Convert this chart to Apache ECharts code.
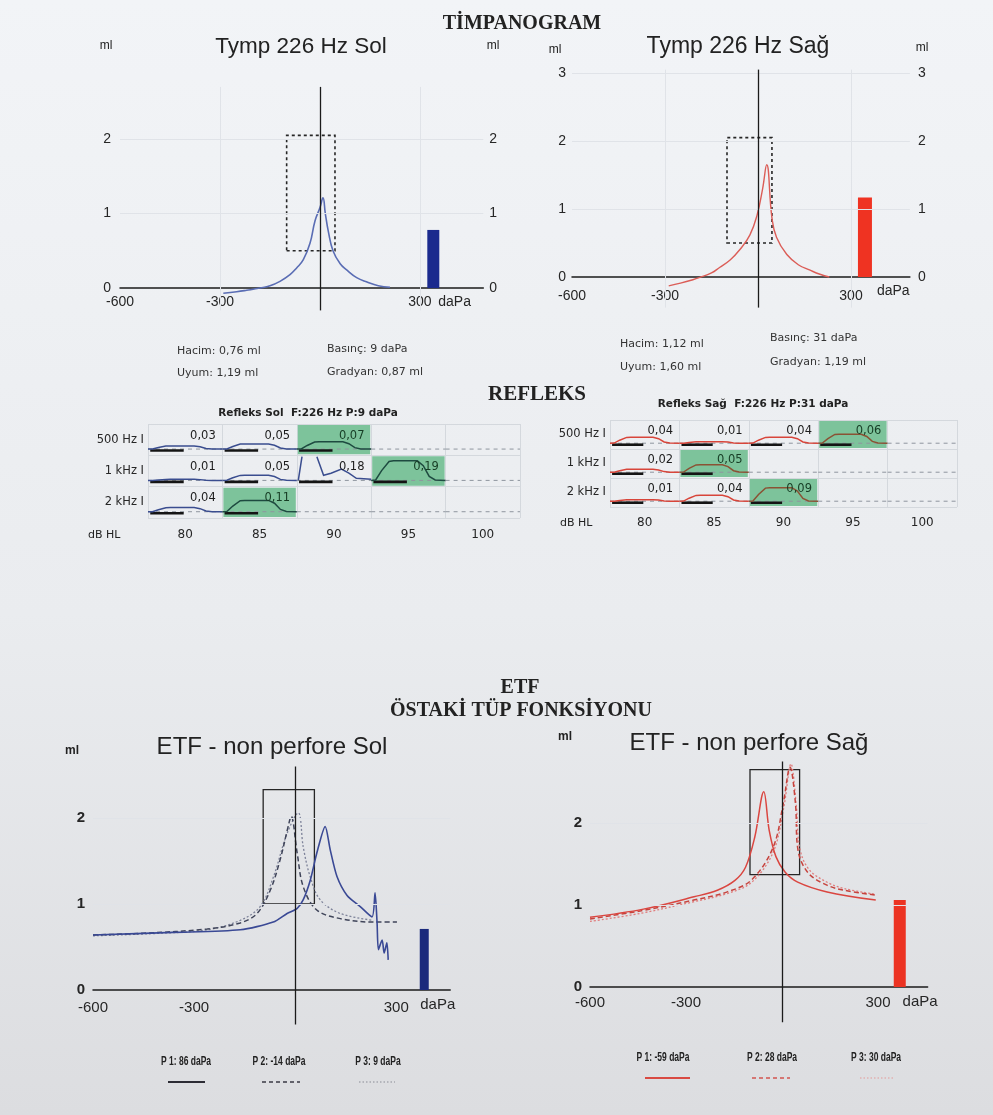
<!DOCTYPE html>
<html><head><meta charset="utf-8">
<script src="https://cdn.jsdelivr.net/npm/echarts@6/dist/echarts.min.js"></script>
<style>html,body{margin:0;padding:0;background:#eceef1}#c{width:993px;height:1115px}</style>
</head><body><div id="c"></div>
<script>
// ================= DATA =================
const pressureTicks = [-600, -300, 300];

// Tympanogram 226 Hz - Sol (pressure daPa / compliance ml)
const tympSolP = [-290,-250,-220,-180,-150,-120,-90,-70,-50,-30,-15,0,9,16,25,39,60,81,110,141,175,210];
const tympSolV = [-0.07,-0.05,-0.03,0.0,0.03,0.09,0.18,0.27,0.38,0.60,0.90,1.08,1.21,1.0,0.76,0.5,0.33,0.24,0.14,0.08,0.03,0.01];
const tympSolVolume = [[340, 0.78]];
// Tympanogram 226 Hz - Sağ
const tympSagP = [-288,-250,-210,-190,-150,-124,-90,-59,-26,-3,15,28,45,60,93,130,168,200,230];
const tympSagV = [-0.13,-0.09,-0.04,-0.01,0.06,0.14,0.25,0.40,0.62,0.91,1.30,1.65,0.87,0.58,0.33,0.18,0.10,0.04,0.0];
const tympSagVolume = [[345, 1.17]];
const tympNormBox = [[-100, 0.5], [45, 2.05]];

// Reflex tables
const reflexLevels = ['80', '85', '90', '95', '100'];
const reflexRows = ['500 Hz I', '1 kHz I', '2 kHz I'];
const reflexSolValues = [[0.03, 0.05, 0.07, null, null], [0.01, 0.05, 0.18, 0.19, null], [0.04, 0.11, null, null, null]];
const reflexSolPass   = [[0, 0, 1, 0, 0], [0, 0, 0, 1, 0], [0, 1, 0, 0, 0]];
const reflexSagValues = [[0.04, 0.01, 0.04, 0.06, null], [0.02, 0.05, null, null, null], [0.01, 0.04, 0.09, null, null]];
const reflexSagPass   = [[0, 0, 0, 1, 0], [0, 1, 0, 0, 0], [0, 0, 1, 0, 0]];
// normalized reflex response shape (fraction of cell width, fraction of amplitude)
const reflexShape = [[0,0],[0.06,0.02],[0.14,0.5],[0.24,0.97],[0.3,1],[0.62,1],[0.7,0.75],[0.78,0.2],[0.86,0.02],[1,0]];
// artifact trace in Sol 1 kHz / 90 dB (fraction of width, ml)
const reflexSolArtifact = {row: 1, col: 2, trace: [[[0.02,0.0],[0.07,0.23]], [[0.27,0.23],[0.36,0.05],[0.46,0.07],[0.6,0.11],[0.7,0.07],[0.8,0.02],[1,0.01]]]};

// ETF - non perfore Sol
const etfSolP1P = [-600,-362,-163,-65,-24,6,24,45,64,89,104,124,154,193,228,237,243,247,258,264,272,276];
const etfSolP1V = [0.64,0.67,0.70,0.79,0.89,0.95,1.05,1.28,1.59,1.90,1.63,1.32,1.10,0.97,0.85,1.13,0.78,0.47,0.58,0.43,0.55,0.35];
const etfSolP2P = [-600,-450,-261,-163,-113,-74,-45,-21,-12,6,24,64,134,232,302];
const etfSolP2V = [0.64,0.66,0.71,0.78,0.89,1.16,1.51,1.90,2.02,1.59,1.20,0.93,0.83,0.79,0.79];
const etfSolP3P = [-600,-400,-261,-163,-104,-65,-24,9,24,45,74,134,232];
const etfSolP3V = [0.63,0.66,0.70,0.81,0.97,1.31,1.82,2.06,1.66,1.31,1.05,0.89,0.81];
const etfSolVolume = [[383, 0.71]];
const etfSolBox = [[-95, 1.0], [57, 2.33]];
// ETF - non perfore Sağ
const etfSagP1P = [-600,-433,-275,-202,-147,-114,-85,-57,-40,-19,10,49,141,293];
const etfSagP1V = [0.85,0.95,1.10,1.18,1.30,1.46,1.83,2.38,1.91,1.59,1.40,1.28,1.16,1.06];
const etfSagP2P = [-600,-440,-276,-171,-94,-27,4,25,42,50,82,142,195,294];
const etfSagP2V = [0.83,0.93,1.06,1.16,1.31,1.71,2.24,2.68,2.24,1.67,1.39,1.24,1.18,1.12];
const etfSagP3P = [-600,-440,-276,-171,-94,-27,6,28,45,55,85,145,195,294];
const etfSagP3V = [0.80,0.90,1.04,1.14,1.28,1.65,2.20,2.72,2.20,1.70,1.43,1.27,1.20,1.13];
const etfSagVolume = [[368, 1.06]];
const etfSagBox = [[-100, 1.37], [55, 2.65]];

const etfSolLegend = ['P 1: 86 daPa', 'P 2: -14 daPa', 'P 3: 9 daPa'];
const etfSagLegend = ['P 1: -59 daPa', 'P 2: 28 daPa', 'P 3: 30 daPa'];

// ================= HELPERS =================
const SANS = '"Liberation Sans", Arial, sans-serif';
const SERIF = '"Liberation Serif", "Times New Roman", serif';
const DV = '"DejaVu Sans", Verdana, sans-serif';
const zip = (a, b) => a.map((x, i) => [x, b[i]]);

function pressureXAxis(grid, min, max, nameGap, fs, margin) {
  return {type: 'value', gridIndex: grid, min, max,
    axisLine: {show: true, onZero: true, lineStyle: {color: '#1b1b1b', width: 1.5}},
    axisTick: {show: false}, splitLine: {show: false},
    axisLabel: {customValues: pressureTicks, fontSize: fs, color: '#262626', margin, fontFamily: SANS, hideOverlap: false},
    name: 'daPa', nameLocation: 'end', nameGap,
    nameTextStyle: {fontSize: fs, color: '#262626', fontFamily: SANS, verticalAlign: 'top', padding: [7, 0, 0, 0]}};
}
function mlYAxis(grid, min, max, pos, labels, margin, fs, bold) {
  return {type: 'value', gridIndex: grid, min, max, position: pos,
    axisLine: {show: false}, axisTick: {show: false}, splitLine: {show: false},
    axisLabel: {customValues: labels, fontSize: fs, color: '#262626', margin, fontFamily: SANS, fontWeight: bold ? 'bold' : 'normal', hideOverlap: false}};
}
function guides(vx, hy) {
  const faint = {color: '#e0e3e8', width: 1, type: 'solid'};
  const data = [];
  vx.forEach(v => data.push({xAxis: v, lineStyle: faint}));
  hy.forEach(v => data.push({yAxis: v, lineStyle: faint}));
  data.push({xAxis: 0, lineStyle: {color: '#1b1b1b', width: 1.3, type: 'solid'}});
  return {symbol: 'none', silent: true, label: {show: false}, animation: false, data};
}
function boxArea(box, dashed) {
  return {silent: true, animation: false,
    itemStyle: {color: 'rgba(0,0,0,0)', borderColor: '#262626', borderWidth: dashed ? 1.6 : 1.3, borderType: dashed ? [3, 3] : 'solid'},
    data: [[{coord: box[0]}, {coord: box[1]}]]};
}
function curve(xi, yi, data, color, width, type, smooth, z) {
  return {type: 'line', xAxisIndex: xi, yAxisIndex: yi, data, showSymbol: false, symbol: 'none',
    smooth: smooth, animation: false, silent: true, z: z || 3,
    lineStyle: {color, width, type}};
}
function volumeBar(xi, yi, data, color, w) {
  return {type: 'bar', xAxisIndex: xi, yAxisIndex: yi, data, barWidth: w, animation: false, silent: true,
    itemStyle: {color}};
}
function reflexSeries(xi, yi, values, pass, traceColor, traceOnGreen, ampScale, artifact) {
  const data = [];
  values.forEach((row, r) => row.forEach((v, c) => data.push([c, r, v == null ? -1 : v, pass[r][c]])));
  return {type: 'custom', coordinateSystem: 'cartesian2d', xAxisIndex: xi, yAxisIndex: yi, data, encode: {x: 0, y: 1},
    silent: true, animation: false,
    renderItem: function (params, api) {
      const c = api.value(0), r = api.value(1), v = api.value(2), ok = api.value(3);
      const ctr = api.coord([c, r]);
      const sz = api.size([1, 1]);
      const w = sz[0], h = sz[1], x0 = ctr[0] - w / 2, y0 = ctr[1] - h / 2, base = y0 + h * 0.8;
      const kids = [];
      if (ok) kids.push({type: 'rect', shape: {x: x0 + 1, y: y0 + 1, width: w - 2, height: h - 2}, style: {fill: '#7dc39b'}});
      kids.push({type: 'line', shape: {x1: x0, y1: base, x2: x0 + w, y2: base}, style: {stroke: '#8f959e', lineWidth: 1, lineDash: [4, 4]}});
      if (v >= 0) {
        kids.push({type: 'line', shape: {x1: x0 + w * 0.03, y1: base + 1.5, x2: x0 + w * 0.48, y2: base + 1.5}, style: {stroke: '#141414', lineWidth: 2.6}});
        const col = ok ? traceOnGreen : traceColor;
        if (artifact && artifact.row === r && artifact.col === c) {
          artifact.trace.forEach(sg => kids.push({type: 'polyline',
            shape: {points: sg.map(p => [x0 + w * p[0], base - p[1] * ampScale])},
            style: {stroke: col, lineWidth: 1.5, fill: null}}));
        } else {
          kids.push({type: 'polyline', shape: {points: reflexShape.map(p => [x0 + w * p[0], base - p[1] * v * ampScale])},
            style: {stroke: col, lineWidth: 1.5, fill: null}});
        }
        kids.push({type: 'text', x: x0 + w * 0.91, y: y0 + h * 0.37,
          style: {text: v.toFixed(2).replace('.', ','), fill: ok ? '#173d25' : '#1d1d1d', font: '11.5px ' + DV, align: 'right', verticalAlign: 'middle'}});
      }
      return {type: 'group', children: kids};
    }};
}
function catX(grid, margin) {
  return {type: 'category', gridIndex: grid, data: reflexLevels, position: 'bottom',
    axisLine: {show: false}, axisTick: {show: false},
    axisLabel: {fontSize: 12, color: '#262626', margin, fontFamily: DV},
    splitLine: {show: true, lineStyle: {color: '#d4d8dd', width: 1}}};
}
function catY(grid) {
  return {type: 'category', gridIndex: grid, data: reflexRows, inverse: true,
    axisLine: {show: false}, axisTick: {show: false},
    axisLabel: {fontSize: 11.5, color: '#262626', margin: 4, fontFamily: DV},
    splitLine: {show: true, lineStyle: {color: '#d4d8dd', width: 1}}};
}
function txt(text, x, y, font, align, fill, sx) {
  return {type: 'text', x, y, silent: true, scaleX: sx || 1,
    style: {text, font, fill: fill || '#222', align: align || 'center', verticalAlign: 'middle'}};
}
function seg(x1, x2, y, color, width, dash) {
  return {type: 'line', silent: true, shape: {x1, y1: y, x2, y2: y},
    style: {stroke: color, lineWidth: width, lineDash: dash || null}};
}

// ================= CHART =================
const chart = echarts.init(document.getElementById('c'), null, {renderer: 'canvas'});
const LEG = 'bold 12.5px "Liberation Sans", Arial, sans-serif';
const LSX = 0.68;
const option = {
  animation: false,
  backgroundColor: {type: 'linear', x: 0, y: 0, x2: 0, y2: 1,
    colorStops: [{offset: 0, color: '#f2f4f7'}, {offset: 0.55, color: '#eaecef'}, {offset: 1, color: '#dcdde0'}]},
  textStyle: {fontFamily: SANS},
  grid: [
    {left: 120, top: 86.9, width: 363.3, height: 223.5, containLabel: false, outerBoundsMode: 'none'},
    {left: 572, top: 69.6, width: 337.9, height: 238, containLabel: false, outerBoundsMode: 'none'},
    {left: 148, top: 424, width: 372, height: 94, containLabel: false, outerBoundsMode: 'none'},
    {left: 610, top: 420, width: 347, height: 87, containLabel: false, outerBoundsMode: 'none'},
    {left: 93, top: 766.4, width: 357.2, height: 258, containLabel: false, outerBoundsMode: 'none'},
    {left: 590, top: 761.5, width: 337.6, height: 260.8, containLabel: false, outerBoundsMode: 'none'}
  ],
  xAxis: [
    pressureXAxis(0, -600, 490, -45, 14, -15),
    pressureXAxis(1, -600, 490, -33, 14, -18),
    catX(2, 11),
    catX(3, 10),
    pressureXAxis(4, -600, 460, -30, 15, -24),
    pressureXAxis(5, -600, 455, -25, 15, -27)
  ],
  yAxis: [
    mlYAxis(0, -0.3, 2.7, 'left', [0, 1, 2], 9, 14, false),   // 0
    mlYAxis(0, -0.3, 2.7, 'right', [0, 1, 2], 6, 14, false),  // 1
    catY(2),                                                  // 2
    catY(3),                                                  // 3
    mlYAxis(1, -0.45, 3.05, 'left', [0, 1, 2, 3], 6, 14, false),  // 4
    mlYAxis(1, -0.45, 3.05, 'right', [0, 1, 2, 3], 8, 14, false), // 5
    mlYAxis(4, -0.4, 2.6, 'left', [0, 1, 2], 8, 15, true),    // 6
    mlYAxis(5, -0.43, 2.75, 'left', [0, 1, 2], 8, 15, true)   // 7
  ],
  series: [
    Object.assign(curve(0, 0, zip(tympSolP, tympSolV), '#5a6db4', 1.6, 'solid', 0.45),
      {markLine: guides([-300, 300], [1, 2]), markArea: boxArea(tympNormBox, true)}),
    volumeBar(0, 0, tympSolVolume, '#1b2a8e', 12),
    Object.assign(curve(1, 4, zip(tympSagP, tympSagV), '#db5d57', 1.4, 'solid', 0.45),
      {markLine: guides([-300, 300], [1, 2, 3]), markArea: boxArea(tympNormBox, true)}),
    volumeBar(1, 4, tympSagVolume, '#ef3322', 14),
    reflexSeries(2, 2, reflexSolValues, reflexSolPass, '#3a4d8f', '#1e4a40', 103, reflexSolArtifact),
    reflexSeries(3, 3, reflexSagValues, reflexSagPass, '#d8453a', '#8a5234', 150, null),
    Object.assign(curve(4, 6, zip(etfSolP3P, etfSolP3V), '#7d8299', 1.3, [2, 2], 0.35),
      {markLine: guides([], [1, 2]), markArea: boxArea(etfSolBox, false)}),
    curve(4, 6, zip(etfSolP2P, etfSolP2V), '#3f4459', 1.5, [5, 3], 0.35),
    curve(4, 6, zip(etfSolP1P, etfSolP1V), '#3a4995', 1.6, 'solid', 0.25, 4),
    volumeBar(4, 6, etfSolVolume, '#1b2a7c', 9),
    Object.assign(curve(5, 7, zip(etfSagP3P, etfSagP3V), '#e07d7d', 1.3, [2, 2], 0.35),
      {markLine: guides([], [1, 2]), markArea: boxArea(etfSagBox, false)}),
    curve(5, 7, zip(etfSagP2P, etfSagP2V), '#c6433d', 1.5, [5, 3], 0.35),
    curve(5, 7, zip(etfSagP1P, etfSagP1V), '#da4640', 1.5, 'solid', 0.35, 4),
    volumeBar(5, 7, etfSagVolume, '#ec3322', 12)
  ],
  graphic: [
    txt('TİMPANOGRAM', 522, 24, 'bold 20px ' + SERIF),
    txt('Tymp 226 Hz Sol', 301, 47, '22.5px ' + SANS),
    txt('Tymp 226 Hz Sağ', 738, 47, '23px ' + SANS),
    txt('ml', 106, 46, '12px ' + SANS),
    txt('ml', 493, 46, '12px ' + SANS),
    txt('ml', 555, 50, '12px ' + SANS),
    txt('ml', 922, 48, '12px ' + SANS),
    txt('Hacim: 0,76 ml', 177, 351, '11px ' + DV, 'left', '#333'),
    txt('Uyum: 1,19 ml', 177, 373, '11px ' + DV, 'left', '#333'),
    txt('Basınç: 9 daPa', 327, 349, '11px ' + DV, 'left', '#333'),
    txt('Gradyan: 0,87 ml', 327, 372, '11px ' + DV, 'left', '#333'),
    txt('Hacim: 1,12 ml', 620, 344, '11px ' + DV, 'left', '#333'),
    txt('Uyum: 1,60 ml', 620, 367, '11px ' + DV, 'left', '#333'),
    txt('Basınç: 31 daPa', 770, 338, '11px ' + DV, 'left', '#333'),
    txt('Gradyan: 1,19 ml', 770, 362, '11px ' + DV, 'left', '#333'),
    txt('REFLEKS', 537, 395, 'bold 21px ' + SERIF),
    txt('Refleks Sol  F:226 Hz P:9 daPa', 308, 413, 'bold 10.5px ' + DV),
    txt('Refleks Sağ  F:226 Hz P:31 daPa', 753, 404, 'bold 10.5px ' + DV),
    txt('dB HL', 88, 535, '11px ' + DV, 'left'),
    txt('dB HL', 560, 523, '11px ' + DV, 'left'),
    txt('ETF', 520, 688, 'bold 20px ' + SERIF),
    txt('ÖSTAKİ TÜP FONKSİYONU', 521, 711, 'bold 20px ' + SERIF),
    txt('ETF - non perfore Sol', 272, 747, '24px ' + SANS),
    txt('ETF - non perfore Sağ', 749, 743, '24px ' + SANS),
    txt('ml', 72, 751, 'bold 12px ' + SANS),
    txt('ml', 565, 737, 'bold 12px ' + SANS),
    txt(etfSolLegend[0], 186, 1062, LEG, 'center', '#222', LSX),
    txt(etfSolLegend[1], 279, 1062, LEG, 'center', '#222', LSX),
    txt(etfSolLegend[2], 378, 1062, LEG, 'center', '#222', LSX),
    seg(168, 205, 1082, '#2c2c34', 2), seg(262, 300, 1082, '#3a3a44', 1.6, [4, 3]), seg(359, 395, 1082, '#8a8c96', 1.2, [1.5, 2]),
    txt(etfSagLegend[0], 663, 1058, LEG, 'center', '#222', LSX),
    txt(etfSagLegend[1], 772, 1058, LEG, 'center', '#222', LSX),
    txt(etfSagLegend[2], 876, 1058, LEG, 'center', '#222', LSX),
    seg(645, 690, 1078, '#d94a42', 2), seg(752, 790, 1078, '#d25550', 1.6, [4, 3]), seg(860, 895, 1078, '#e39a9a', 1.2, [1.5, 2])
  ]
};
chart.setOption(option);
</script></body></html>
